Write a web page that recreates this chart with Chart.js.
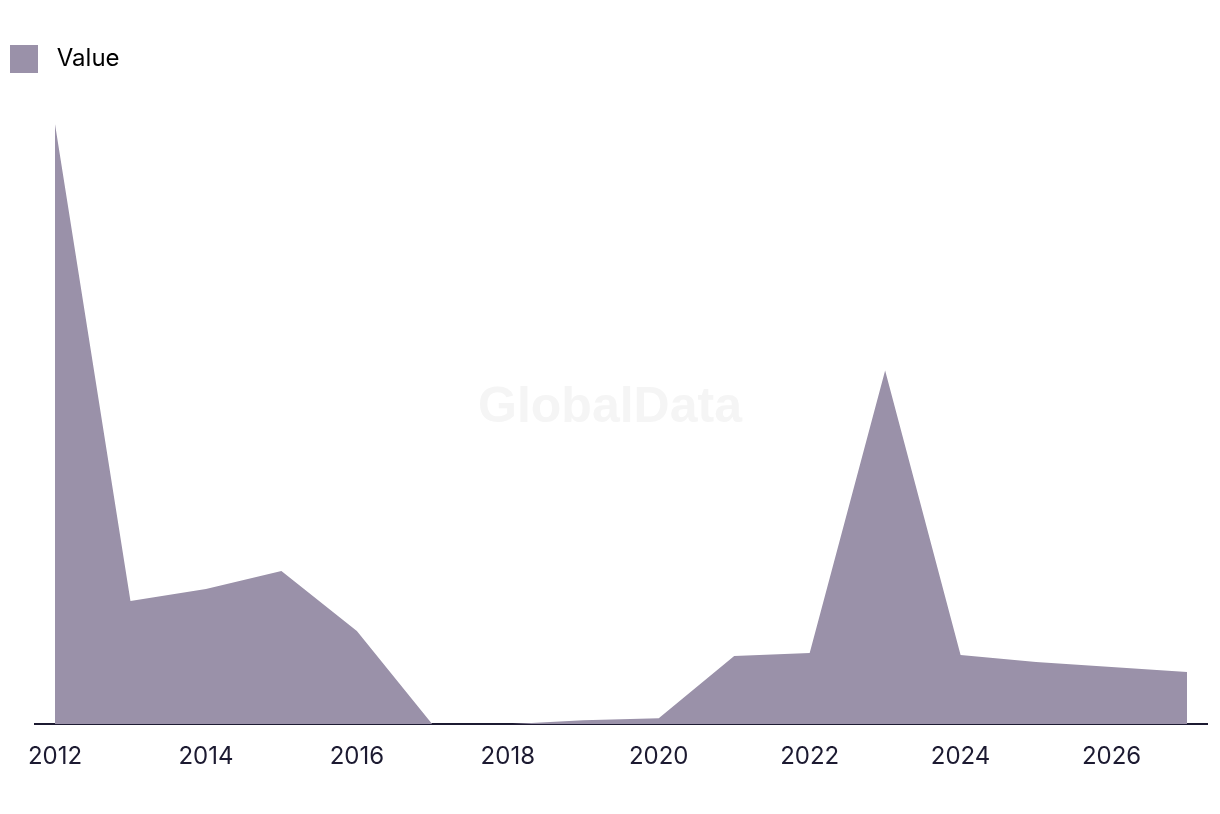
<!DOCTYPE html>
<html>
<head>
<meta charset="utf-8">
<script src="https://cdn.jsdelivr.net/npm/chart.js@4"></script>
<style>
  html, body { margin: 0; padding: 0; background: #ffffff; }
  #wrap { width: 1220px; height: 814px; }
</style>
</head>
<body>
<div id="wrap"><canvas id="areaChart"></canvas></div>
<script>
// data
const years = [2012, 2013, 2014, 2015, 2016, 2017, 2018, 2019, 2020, 2021, 2022, 2023, 2024, 2025, 2026, 2027];
const values = [29.95, 6.15, 6.75, 7.65, 4.65, 0, 0, 0.2, 0.3, 3.4, 3.55, 17.65, 3.45, 3.1, 2.85, 2.6];
const tickYears = [2012, 2014, 2016, 2018, 2020, 2022, 2024, 2026];
const seriesName = "Value";

const fillColor = "#9a91a9";
const inkColor = "#1c1a31";

const watermark = {
    id: "watermark",
    beforeDatasetsDraw(chart) {
        const { ctx } = chart;
        ctx.save();
        ctx.font = "bold 50px 'Liberation Sans', Arial, sans-serif";
        ctx.fillStyle = "#f5f5f5";
        ctx.textAlign = "center";
        ctx.textBaseline = "middle";
        ctx.fillText("GlobalData", chart.width / 2, 408);
        ctx.restore();
    }
};

const canvas = document.getElementById("areaChart");
const ctx = canvas.getContext("2d");
const myChart = new Chart(ctx, {
    type: "line",
    data: {
        datasets: [
            {
                label: seriesName,
                data: years.map((y, i) => ({ x: y, y: values[i] })),
                backgroundColor: fillColor,
                borderColor: fillColor,
                borderWidth: 0,
                pointRadius: 0,
                fill: "origin",
                tension: 0,
            },
        ],
    },
    options: {
        responsive: true,
        maintainAspectRatio: false,
        animation: false,
        layout: {
            padding: { top: 35, right: 13, bottom: 25, left: 0 },
        },
        plugins: {
            legend: {
                display: true,
                position: "top",
                align: "start",
                labels: {
                    boxWidth: 28,
                    boxHeight: 28,
                    color: inkColor,
                    font: { family: "Inter", size: 24 },
                    padding: 10,
                    generateLabels(chart) {
                        return [{
                            text: " " + seriesName,
                            fillStyle: fillColor,
                            strokeStyle: fillColor,
                            lineWidth: 0,
                            datasetIndex: 0,
                        }];
                    },
                },
            },
            tooltip: { enabled: false },
        },
        scales: {
            x: {
                type: "linear",
                min: 2011.735,
                max: 2027.265,
                grid: { display: false, drawTicks: false },
                border: { display: true, color: inkColor, width: 2 },
                afterBuildTicks(scale) {
                    scale.ticks = tickYears.map(v => ({ value: v }));
                },
                ticks: {
                    color: inkColor,
                    font: { family: "Inter", size: 24 },
                    padding: 18,
                    maxRotation: 0,
                    autoSkip: false,
                    callback: v => String(v),
                },
            },
            y: {
                min: 0,
                max: 32,
                grid: { display: false, drawTicks: false },
                border: { display: false },
                ticks: { display: false },
                afterFit(scale) {
                    scale.width = 35;
                },
            },
        },
    },
    plugins: [watermark],
});
</script>
</body>
</html>
